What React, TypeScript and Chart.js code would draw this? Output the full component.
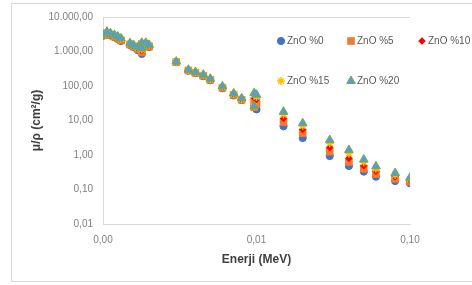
import React, { useEffect, useRef } from 'react';
import { Chart, registerables } from 'chart.js';
import { drawPoint } from 'chart.js/helpers';

Chart.register(...registerables);

// Energy (MeV)
const energies = [
  0.001, 0.00106, 0.00112, 0.00119, 0.00125, 0.00131, 0.0015, 0.00158, 0.00168,
  0.00179, 0.00179, 0.0019, 0.002, 0.003, 0.0036, 0.004, 0.0045, 0.005, 0.006,
  0.0071, 0.008, 0.00966, 0.00966, 0.01, 0.015, 0.02, 0.03, 0.04, 0.05, 0.06,
  0.08, 0.1,
];

// mass attenuation coefficient (cm2/g)
const zno0 = [
  2850, 3150, 2900, 2600, 2300, 2000, 1550, 1350, 1100, 850, 1600, 1600, 1350,
  490, 277, 236, 193, 146, 86, 53, 39, 24, 24, 21, 6.8, 3.1, 0.93, 0.48, 0.33,
  0.235, 0.176, 0.151,
];
const zno5 = [
  2950, 3300, 3050, 2700, 2400, 2100, 1600, 1400, 1170, 960, 1650, 1650, 1400,
  495, 282, 241, 198, 150, 89, 55, 40, 24.5, 36, 31, 9, 4.3, 1.25, 0.63, 0.4,
  0.28, 0.205, 0.17,
];
const zno10 = [
  3000, 3450, 3200, 2800, 2500, 2200, 1650, 1450, 1230, 1060, 1700, 1700, 1450,
  500, 287, 246, 203, 154, 92, 57, 41, 25, 46, 41, 11.5, 5.5, 1.65, 0.8, 0.49,
  0.34, 0.235, 0.19,
];
const zno15 = [
  3050, 3600, 3300, 2900, 2600, 2300, 1700, 1500, 1280, 1150, 1750, 1750, 1500,
  505, 292, 250, 208, 158, 95, 59, 42, 25.5, 55, 48, 15, 7, 2.2, 1.1, 0.62,
  0.4, 0.265, 0.205,
];
const zno20 = [
  3100, 3750, 3400, 3000, 2700, 2400, 1750, 1550, 1330, 1240, 1800, 1800, 1550,
  510, 297, 255, 213, 163, 98, 61, 44, 26, 63, 56, 18, 8.3, 2.7, 1.4, 0.74,
  0.47, 0.3, 0.22,
];

const seriesLabels = ['ZnO %0', 'ZnO %5', 'ZnO %10', 'ZnO %15', 'ZnO %20'];
const xTickValues = [0.001, 0.01, 0.1];
const yTickValues = [0.01, 0.1, 1, 10, 100, 1000, 10000];
const xTitle = 'Enerji (MeV)';
const yTitle = 'μ/ρ (cm²/g)';

function fmt(v: number): string {
  const [i, d] = v.toFixed(2).split('.');
  return i.replace(/\B(?=(\d{3})+(?!\d))/g, '.') + ',' + d;
}

const styles = [
  { pointStyle: 'circle', radius: 3.6, bg: '#4472C4', border: '#4472C4', bw: 1 },
  { pointStyle: 'rect', radius: 5.4, bg: '#ED7D31', border: '#ED7D31', bw: 0 },
  { pointStyle: 'rectRot', radius: 3.8, bg: '#FF0000', border: '#FF0000', bw: 0 },
  { pointStyle: 'star', radius: 4, bg: 'rgba(0,0,0,0)', border: '#FFC000', bw: 1.5 },
  { pointStyle: 'triangle', radius: 5, bg: '#5B9BD5', border: '#70AD47', bw: 1 },
];

const seriesValues = [zno0, zno5, zno10, zno15, zno20];

const legendPlugin = {
  id: 'customLegend',
  afterDraw(chart: any) {
    const ctx = chart.ctx as CanvasRenderingContext2D;
    const pos = [
      [281, 41],
      [351, 41],
      [422, 41],
      [281, 81],
      [351, 81],
    ];
    ctx.save();
    seriesLabels.forEach((label, i) => {
      const s = styles[i];
      const [x, y] = pos[i];
      ctx.fillStyle = s.bg;
      ctx.strokeStyle = s.border;
      ctx.lineWidth = s.bw;
      drawPoint(ctx, { pointStyle: s.pointStyle as any, radius: s.radius, rotation: 0, borderWidth: s.bw }, x, y);
      ctx.fillStyle = '#595959';
      ctx.font = '10px "Liberation Sans", Arial, sans-serif';
      ctx.textBaseline = 'middle';
      ctx.textAlign = 'left';
      ctx.fillText(label, x + 6, y + 0.5);
    });
    ctx.restore();
  },
};

export default function App() {
  const ref = useRef<HTMLCanvasElement | null>(null);
  useEffect(() => {
    if (!ref.current) return;
    const datasets = seriesLabels.map((label, i) => ({
      label,
      data: energies.map((e, j) => ({ x: e, y: seriesValues[i][j] })),
      pointStyle: styles[i].pointStyle as any,
      pointRadius: styles[i].radius,
      pointBackgroundColor: styles[i].bg,
      pointBorderColor: styles[i].border,
      pointBorderWidth: styles[i].bw,
      showLine: false,
      order: 5 - i,
    }));
    const tickFont = { family: '"Liberation Sans", Arial, sans-serif', size: 10 };
    const titleFont = { family: '"Liberation Sans", Arial, sans-serif', size: 12, weight: 'bold' as const };
    const chart = new Chart(ref.current, {
      type: 'scatter',
      data: { datasets },
      plugins: [legendPlugin],
      options: {
        animation: false,
        responsive: false,
        events: [],
        layout: { padding: { left: 25, top: 17, right: 62, bottom: 0 } },
        plugins: { legend: { display: false }, tooltip: { enabled: false } },
        scales: {
          x: {
            type: 'logarithmic',
            min: 0.001,
            max: 0.1,
            afterBuildTicks: (scale: any) => {
              scale.ticks = xTickValues.map((v) => ({ value: v }));
            },
            afterFit: (scale: any) => {
              scale.height = 61;
            },
            ticks: {
              callback: (v: any) => fmt(Number(v)),
              color: '#808080',
              font: tickFont,
              padding: 10,
              maxRotation: 0,
              autoSkip: false,
            },
            grid: { display: false, drawTicks: false },
            border: { display: true, color: '#d9d9d9', width: 1 },
            title: {
              display: true,
              text: xTitle,
              color: '#404040',
              font: titleFont,
              padding: { top: 0, bottom: 18 },
            },
          },
          y: {
            type: 'logarithmic',
            min: 0.01,
            max: 10000,
            afterBuildTicks: (scale: any) => {
              scale.ticks = yTickValues.map((v) => ({ value: v }));
            },
            afterFit: (scale: any) => {
              scale.width = 78;
            },
            ticks: {
              callback: (v: any) => fmt(Number(v)),
              color: '#808080',
              font: tickFont,
              padding: 10,
              autoSkip: false,
            },
            grid: {
              drawTicks: false,
              color: (c: any) => (c.tick && c.tick.value === 10000 ? '#d9d9d9' : 'rgba(0,0,0,0)'),
            },
            border: { display: true, color: '#d9d9d9', width: 1 },
            title: {
              display: true,
              text: yTitle,
              color: '#404040',
              font: titleFont,
              padding: { top: 4, bottom: 0 },
            },
          },
        },
      },
    });
    return () => chart.destroy();
  }, []);

  return (
    <div>
      <div
        style={{
          position: 'fixed',
          left: 11,
          top: 3,
          width: 475,
          height: 279,
          border: '1px solid #d9d9d9',
          boxSizing: 'border-box',
        }}
      />
      <canvas
        ref={ref}
        width={472}
        height={285}
        style={{ position: 'fixed', left: 0, top: 0, width: 472, height: 285 }}
      />
    </div>
  );
}
